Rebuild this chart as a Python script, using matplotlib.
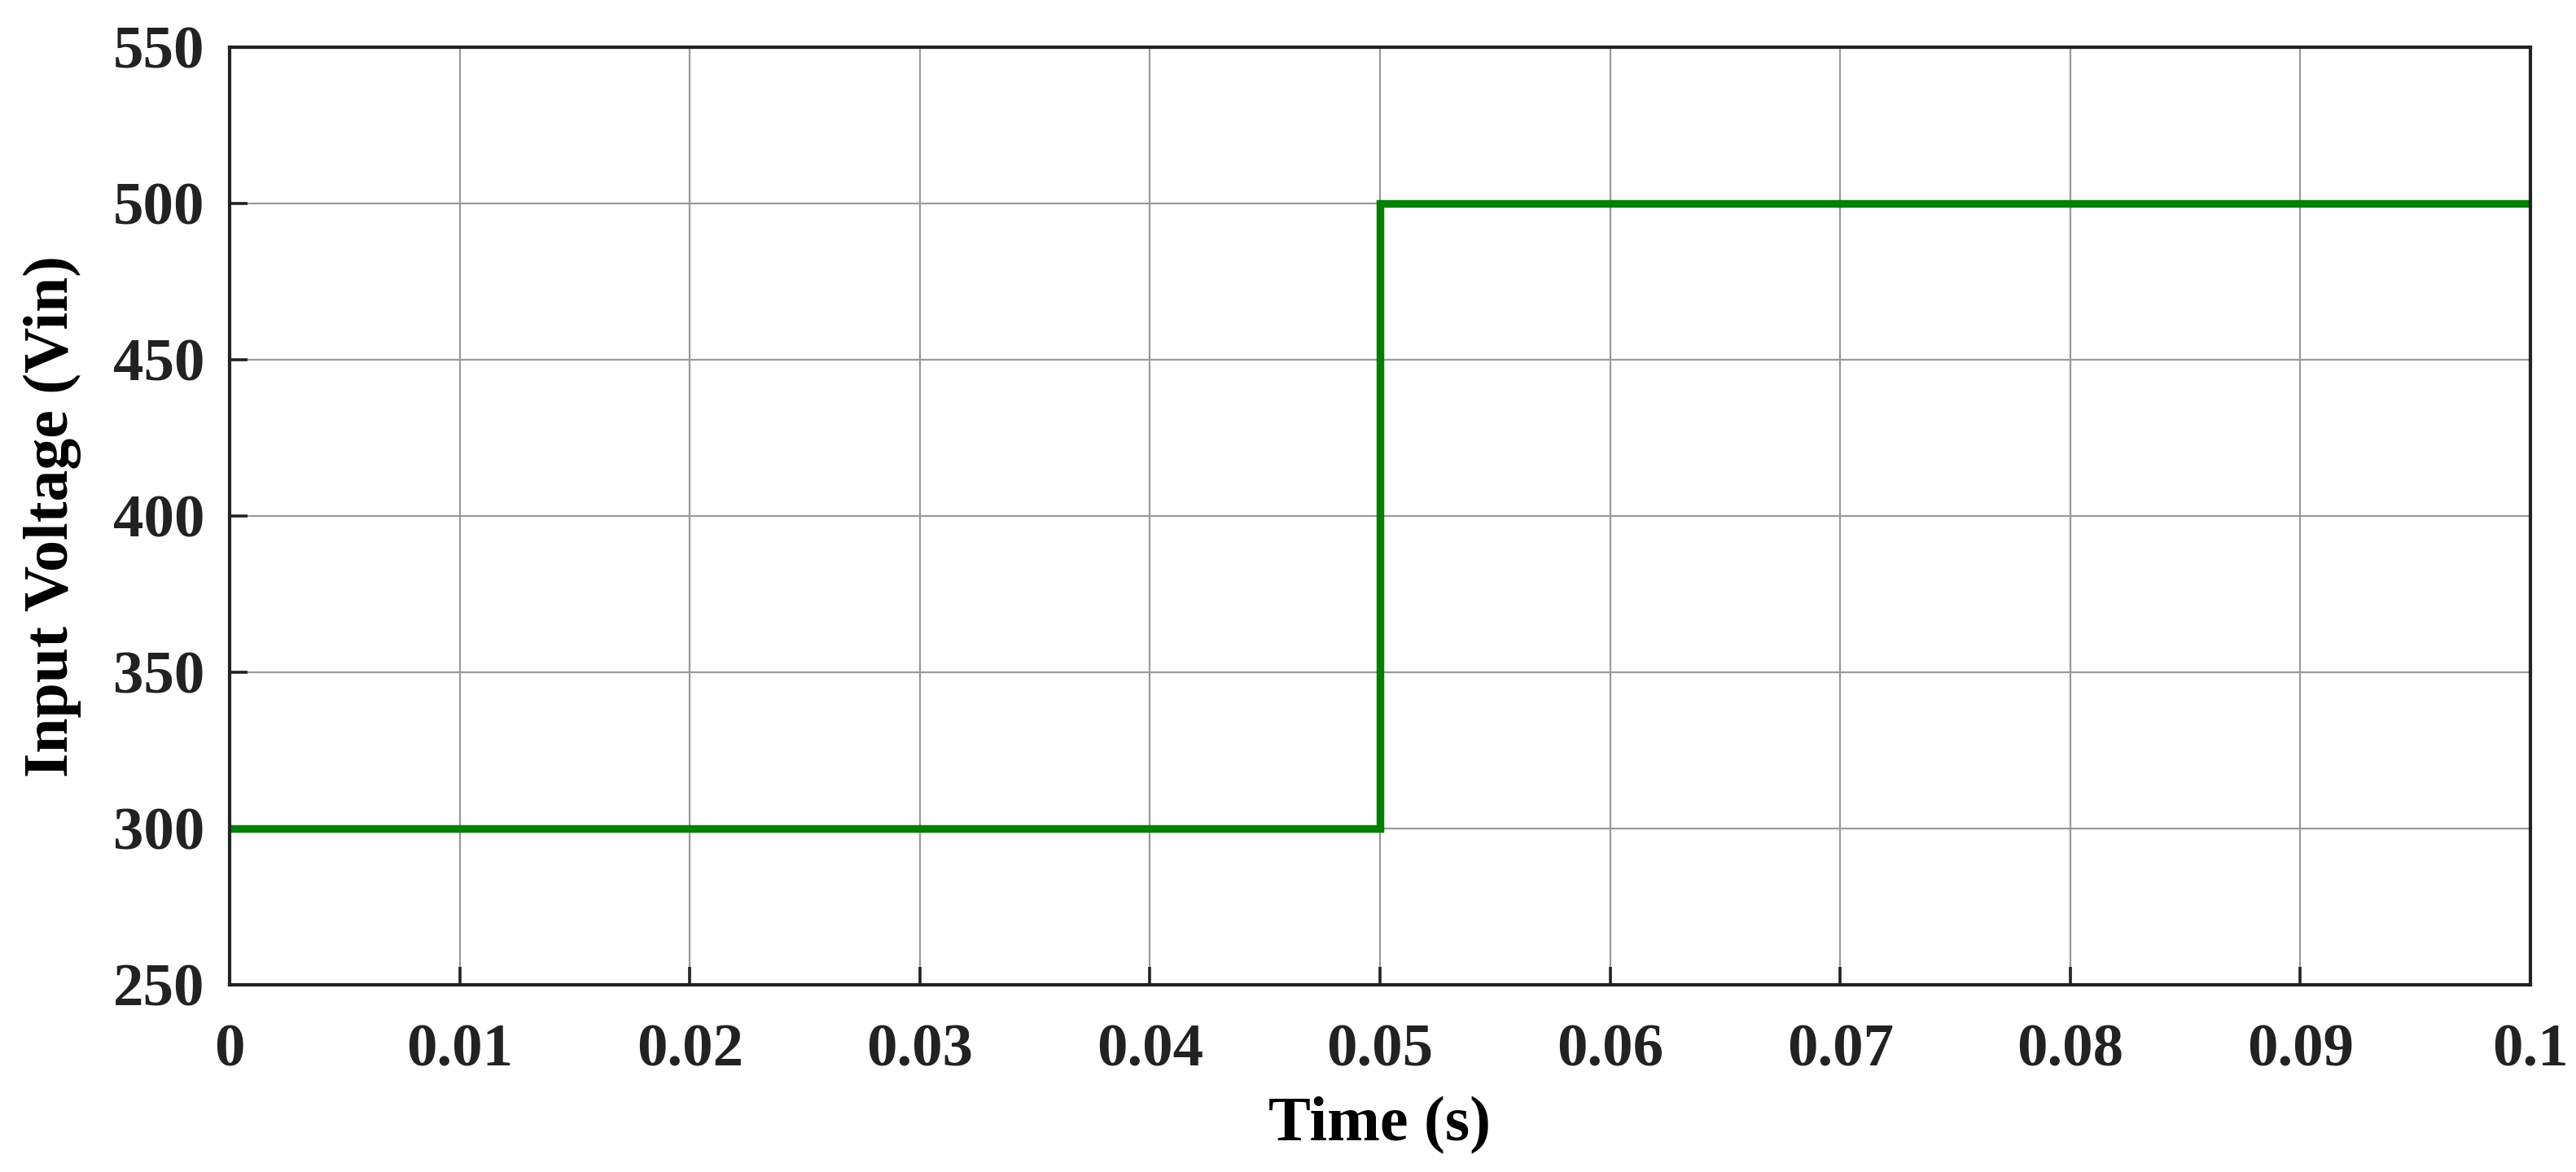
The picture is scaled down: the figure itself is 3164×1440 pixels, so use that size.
import matplotlib
matplotlib.use('Agg')
import matplotlib.pyplot as plt
from matplotlib.ticker import FormatStrFormatter

# step input voltage
time_s = [0.0, 0.05, 0.1]
vin = [300, 500, 500]
x_ticks = [0, 0.01, 0.02, 0.03, 0.04, 0.05, 0.06, 0.07, 0.08, 0.09, 0.1]
x_tick_labels = ['0', '0.01', '0.02', '0.03', '0.04', '0.05', '0.06', '0.07', '0.08', '0.09', '0.1']
y_ticks = [250, 300, 350, 400, 450, 500, 550]

plt.rcParams['font.family'] = ['Liberation Serif', 'DejaVu Serif']
plt.rcParams['font.weight'] = 'bold'

fig = plt.figure(figsize=(15.82, 7.2), dpi=200)
ax = fig.add_axes([282 / 3164, 1 - 1210 / 1440, (3108 - 282) / 3164, (1210 - 58) / 1440])

ax.step(time_s, vin, where='post', color='#008000', lw=3.4, solid_joinstyle='miter')

ax.set_xlim(0, 0.1)
ax.set_ylim(250, 550)
ax.set_xticks(x_ticks)
ax.set_xticklabels(x_tick_labels)
ax.set_yticks(y_ticks)
ax.grid(True, color='#9a9a9a', lw=0.8)
ax.set_axisbelow(True)
ax.tick_params(direction='in', length=8, width=1.3, labelsize=27, colors='#222222')
ax.tick_params(axis='x', pad=17)
ax.tick_params(axis='y', pad=11)
ax.tick_params(top=False, right=False)
for s in ax.spines.values():
    s.set_linewidth(1.5)
    s.set_color('#222222')

ax.set_xlabel('Time (s)', fontsize=28, fontweight='bold', labelpad=8)
ax.set_ylabel('Input Voltage (Vin)', fontsize=28, fontweight='bold', labelpad=14)

fig.savefig('out.png', dpi=200)
